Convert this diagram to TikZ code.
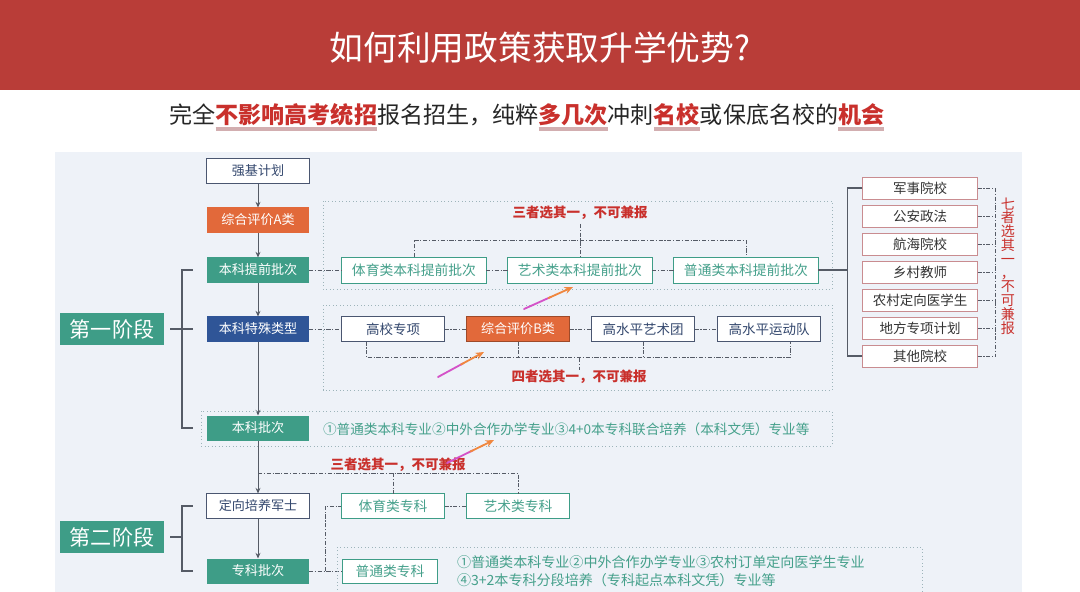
\documentclass[tikz,border=0pt]{standalone}
\usepackage{fontspec}
\setmainfont{Noto Sans CJK SC}
\usepackage{xcolor}
\usetikzlibrary{arrows.meta, positioning, calc}

\definecolor{hdred}{HTML}{B93D38}
\definecolor{panelbg}{HTML}{EEF2F8}
\definecolor{tealf}{HTML}{3E9D87}
\definecolor{tealt}{HTML}{45A08B}
\definecolor{darkbl}{HTML}{2F5597}
\definecolor{orangef}{HTML}{E2693A}
\definecolor{edgegray}{HTML}{4A5670}
\definecolor{navytxt}{HTML}{34486E}
\definecolor{pinkedge}{HTML}{C98C90}
\definecolor{notered}{HTML}{C9302C}
\definecolor{framegray}{HTML}{9DB4BA}
\definecolor{linegray}{HTML}{555B66}
\definecolor{ulpink}{HTML}{D2AEB0}
\definecolor{arrpink}{HTML}{D452C8}
\definecolor{arrorange}{HTML}{F0873F}

\newlength\hlwd
\newcommand\hlword[1]{\settowidth\hlwd{\bfseries #1}\rlap{\color{ulpink}\rule[-5pt]{\hlwd}{2.4pt}}{\color{notered}\bfseries #1}}

\begin{document}
\begin{tikzpicture}[x=0.025cm, y=-0.025cm,
  every node/.style={inner sep=0pt, outer sep=0pt},
  colbox/.style={minimum width=2.55cm, minimum height=0.625cm, font=\fontsize{9.3}{10}\selectfont},
  plainbox/.style={colbox, draw=edgegray, fill=white, text=navytxt, line width=0.7pt},
  tealbox/.style={colbox, fill=tealf, text=white},
  bluebox/.style={colbox, fill=darkbl, text=white},
  orangebox/.style={colbox, fill=orangef, text=white},
  tealline/.style={draw=tealf, fill=white, text=tealt, line width=0.7pt, minimum width=3.6cm, minimum height=0.65cm, font=\fontsize{9.8}{10}\selectfont},
  darkline/.style={draw=edgegray, fill=white, text=navytxt, line width=0.7pt, minimum width=2.575cm, minimum height=0.625cm, font=\fontsize{9.6}{10}\selectfont},
  pinkbox/.style={draw=pinkedge, fill=white, text=black!80, line width=0.7pt, minimum width=2.875cm, minimum height=0.55cm, font=\fontsize{9.6}{10}\selectfont},
  stagebox/.style={fill=tealf, text=white, minimum width=2.6cm, minimum height=0.78cm, font=\fontsize{15}{16}\selectfont},
  note/.style={text=notered, font=\fontsize{9.6}{10}\selectfont\bfseries},
  flow/.style={draw=linegray, line width=0.7pt, -{Stealth[length=4pt, width=3.5pt]}},
  brk/.style={draw=linegray, line width=0.8pt},
  dd/.style={draw=linegray, line width=0.6pt, dash pattern=on 3pt off 1.2pt on 0.8pt off 1.2pt},
  frame/.style={draw=framegray, line width=0.5pt, dotted},
  hint/.style={line width=1.3pt, line cap=round}
]
  \useasboundingbox (0,0) rectangle (1080,592);
  \fill[white] (0,0) rectangle (1080,592);

  % === HEADER ===
  \fill[hdred] (0,0) rectangle (1080,90);
  \node[text=white, font=\fontsize{24}{26}\selectfont] (title) at (540,48) {如何利用政策获取升学优势?};
  \node[text=black!85, font=\fontsize{16.4}{20}\selectfont] (sub) at (527,117)
    {完全\hlword{不影响高考统招}报名招生，纯粹\hlword{多几次}冲刺\hlword{名校}或保底名校的\hlword{机会}};

  \fill[panelbg] (55,152) rectangle (1022,592);

  % === LEFT COLUMN ===
  \node[plainbox] (qj) at (258,171) {强基计划};
  \node[orangebox] (zha) at (258,220) {综合评价A类};
  \node[tealbox] (tq) at (258,270) {本科提前批次};
  \node[bluebox] (ts) at (258,329) {本科特殊类型};
  \node[tealbox] (bk) at (258,428) {本科批次};
  \node[plainbox] (dx) at (258,506) {定向培养军士};
  \node[tealbox] (zk) at (258,571) {专科批次};

  \draw[flow] (qj) -- (zha);
  \draw[flow] (zha) -- (tq);
  \draw[flow] (tq) -- (ts);
  \draw[flow] (ts) -- (bk);
  \draw[flow] (bk) -- (dx);
  \draw[flow] (dx) -- (zk);

  % stage labels + brackets
  \node[stagebox] (st1) at (112,329) {第一阶段};
  \node[stagebox, minimum height=0.8cm] (st2) at (112,537) {第二阶段};
  \draw[brk] ($(tq.west)+(-14,0)$) -| ($(bk.west)+(-25,0)$) -- ($(bk.west)+(-14,0)$);
  \draw[brk] ($(st1.east)+(6,0)$) -- ++(23,0);
  \draw[brk] ($(dx.west)+(-14,0)$) -| ($(zk.west)+(-25,0)$) -- ($(zk.west)+(-14,0)$);
  \draw[brk] ($(st2.east)+(6,0)$) -- ++(12,0);

  % === ADVANCE BATCH: three choose one ===
  \draw[frame] (323,201) rectangle (832,289);
  \node[note] (n1) at (580,213) {三者选其一，不可兼报};
  \node[tealline] (ty) at (414,270) {体育类本科提前批次};
  \node[tealline] (ys) at (580,270) {艺术类本科提前批次};
  \node[tealline] (pt) at (746,270) {普通类本科提前批次};
  \draw[dd] (tq) -- (ty);
  \draw[dd] (ty) -- (ys);
  \draw[dd] (ys) -- (pt);
  \draw[dd] (ty.north) -- ++(0,-17) -| (pt.north);
  \draw[dd] (n1.south) ++(0,4) -- (ys.north);

  % seven schools
  \foreach \nm [count=\i] in {军事院校,公安政法,航海院校,乡村教师,农村定向医学生,地方专项计划,其他院校}
    \node[pinkbox] (s\i) at (920,160+28*\i) {\nm};
  \coordinate (sbr) at ($(s1.west)+(-15,0)$);
  \draw[brk] (pt.east) -- (sbr |- pt.east);
  \draw[brk] (s1.west) -- (sbr) |- (s7.west);
  \foreach \i in {1,...,7}
    \draw[dd] (s\i.east) -- ++(18,0);
  \draw[dd] ($(s1.east)+(18,0)$) -- ($(s7.east)+(18,0)$);
  \node[text=notered, align=center, font=\fontsize{10}{9.8}\selectfont] (n7) at (1008,266)
    {七\\者\\选\\其\\一\\，\\不\\可\\兼\\报};

  % === SPECIAL TYPES: four choose one ===
  \draw[frame] (323,305) rectangle (832,390);
  \node[darkline] (gx) at (393,329) {高校专项};
  \node[orangebox, minimum width=2.575cm, draw=orangef!70!black, line width=0.7pt] (zhb) at (518,329) {综合评价B类};
  \node[darkline] (yst) at (643,329) {高水平艺术团};
  \node[darkline] (ydd) at (769,329) {高水平运动队};
  \draw[dd] (ts) -- (gx);
  \draw[dd] (gx) -- (zhb);
  \draw[dd] (zhb) -- (yst);
  \draw[dd] (yst) -- (ydd);
  \draw[dd] ([xshift=-19]gx.south) -- ++(0,16) -| ([xshift=15]ydd.south);
  \draw[dd] (zhb.south) -- ++(0,16);
  \draw[dd] (yst.south) -- ++(0,16);
  \node[note] (n4) at (579,377) {四者选其一，不可兼报};
  \draw[dd] (579,358) -- (n4.north);

  % === UNDERGRADUATE BATCH ===
  \draw[frame] (201,411) rectangle (832,446);
  \node[anchor=west, text=tealt, font=\fontsize{9.7}{10}\selectfont] (bkt) at (323,429)
    {①普通类本科专业②中外合作办学专业③4+0本专科联合培养（本科文凭）专业等};

  % === SECOND STAGE ===
  \node[note] (n2) at (398,465) {三者选其一，不可兼报};
  \node[tealline, minimum width=2.575cm, minimum height=0.625cm] (ty2) at (393,506) {体育类专科};
  \node[tealline, minimum width=2.575cm, minimum height=0.625cm] (ys2) at (518,506) {艺术类专科};
  \node[tealline, minimum width=2.375cm, minimum height=0.6cm] (pz) at (390,571) {普通类专科};
  \coordinate (j2) at (bk.south |- 0,473);
  \draw[dd] (j2) -| (ys2.north);
  \draw[dd] (j2 -| ty2.north) -- (ty2.north);
  \draw[dd] (ty2) -- (ys2);
  \draw[dd] (zk) -- (pz);
  \coordinate (j3) at (325,571);
  \draw[dd] (j3) |- (ty2.west);

  \draw[frame] (337,600) |- (922,547) -- (922,600);
  \node[anchor=west, align=left, text=tealt, font=\fontsize{10}{12.8}\selectfont] (pzt) at (457,571)
    {①普通类本科专业②中外合作办学专业③农村订单定向医学生专业\\④3+2本专科分段培养（专科起点本科文凭）专业等};

  % === POINTER ARROWS ===
  \foreach \tx/\ty/\hx/\hy [count=\k] in {438/377/484/352, 524/309/573/287, 447/463/494/440} {
    \coordinate (p\k t) at (\tx,\ty);
    \coordinate (p\k h) at (\hx,\hy);
    \draw[hint, arrpink] (p\k t) -- ($(p\k t)!0.55!(p\k h)$);
    \draw[hint, arrorange, -{Stealth[length=6pt, width=5pt]}] ($(p\k t)!0.5!(p\k h)$) -- (p\k h);
  }
\end{tikzpicture}
\end{document}
